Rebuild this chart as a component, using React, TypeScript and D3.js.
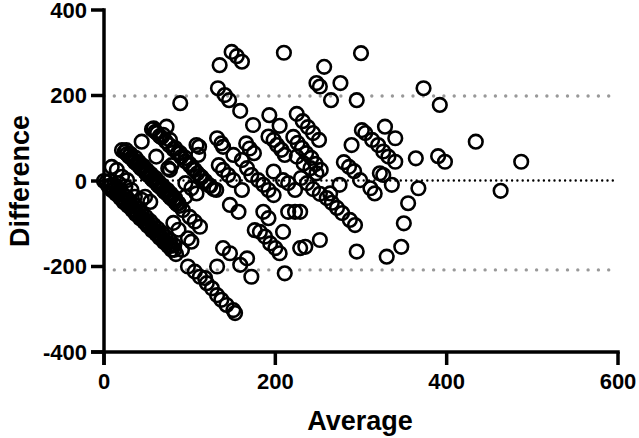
import React from 'react';
import * as d3 from 'd3';

// Bland-Altman style plot: average of two measurements vs their difference
const xTicks = [0, 200, 400, 600];
const yTicks = [-400, -200, 0, 200, 400];

const upperLimit = 199;
const bias = 1;
const lowerLimit = -208;

// [average, difference]
const upperPoints = [
    [135, 271], [149, 302], [155, 292], [161, 279], [210, 300], [89, 182], [133, 217], [141, 201], [146, 189],
    [159, 164], [174, 131], [193, 154], [205, 129], [225, 157], [232, 140], [238, 126], [244, 112], [251, 96],
    [248, 229], [252, 221], [111, 80], [132, 100], [137, 88], [139, 80], [151, 61], [166, 88], [170, 76], [175, 65],
    [192, 104], [198, 96], [202, 84], [207, 73], [211, 61], [221, 103], [226, 89], [231, 77], [236, 65], [242, 54],
    [247, 40], [253, 26], [300, 299], [257, 267], [276, 229], [265, 189], [295, 189], [373, 217], [392, 178],
    [301, 119], [305, 112], [313, 96], [320, 84], [326, 69], [332, 57], [340, 45], [328, 127], [340, 100], [289, 84],
    [280, 44], [286, 33], [292, 23], [364, 53], [390, 58], [398, 45], [434, 92], [487, 45],
];

const middlePoints = [
    [463, -23], [275, -9], [299, 2], [322, 18], [326, 14], [336, -9], [311, -17], [316, -29], [367, -17],
    [230, 7], [237, -5], [244, -19], [252, -30], [260, -40], [266, -51], [272, -63], [278, -75], [287, -91], [293, -103],
    [264, -29], [355, -52], [350, -99], [347, -154], [330, -177], [295, -165], [252, -138], [235, -154], [229, -72],
    [83, 77], [89, 65], [95, 54], [100, 40], [106, 26], [112, 12], [118, 0], [124, -12], [131, -21],
    [110, 61], [134, 37], [139, 26], [145, 14], [151, 2], [161, 49], [167, 30], [172, 14], [161, -21],
    [147, -56], [157, -72], [180, 2], [186, -9], [192, -21], [198, -33], [198, 22], [209, 2], [215, -5],
    [225, 57], [233, 41], [241, 30], [248, 18], [223, -21], [186, -72], [192, -87], [215, -72], [223, -72],
    [58, 123], [73, 127], [69, 108], [77, 96], [44, 92], [61, 57], [75, 30], [79, 37], [108, 84], [77, 26],
    [60, 115], [65, 105], [95, -5], [102, -17], [108, -29], [95, -37], [87, -52],
];

const lowerPoints = [
    [100, -84], [106, -95], [112, -107], [98, -134], [176, -115], [182, -119], [188, -130], [194, -146],
    [200, -157], [205, -169], [209, -119], [229, -157], [139, -157], [147, -169], [167, -181], [159, -196],
    [132, -200], [98, -200], [106, -212], [112, -224], [118, -227], [172, -224], [211, -216],
    [120, -239], [126, -251], [132, -267], [137, -278], [143, -290], [151, -302], [153, -309], [91, -161],
    [81, -98], [87, -114], [102, -142],
];

// dense diagonal ribbons near the origin
const ribbonPoints = [
    [21, 72], [27, 63], [32, 54], [36, 44], [41, 35], [46, 26], [50, 16], [55, 7], [60, -2], [64, -12], [69, -21],
    [74, -30], [78, -40], [83, -49], [88, -58], [92, -68],
    [26, 72], [31, 63], [37, 54], [41, 44], [46, 35], [50, 26], [55, 16], [60, 7], [64, -2], [69, -12], [74, -21],
    [78, -30], [83, -40],
    [24, 68], [29, 58], [34, 49], [39, 40], [43, 30], [48, 21], [53, 12], [57, 2], [62, -7], [67, -16], [71, -26],
    [76, -35], [81, -44], [85, -54],
    [56, 121], [62, 112], [67, 102], [72, 93], [76, 84], [81, 74], [86, 65], [90, 56], [95, 46], [100, 37],
    [104, 28], [109, 18], [114, 9], [118, -1], [123, -10], [128, -19],
    [9, 33], [15, 26], [21, 10], [17, -5], [25, -13], [32, -21], [36, -37], [44, -44], [27, 2], [48, -37], [54, -49],
    [0, 0], [5, -12], [9, -21], [14, -30], [19, -40], [23, -49], [28, -58], [33, -68], [37, -77], [42, -87], [47, -96],
    [51, -105], [56, -115], [61, -124], [65, -133], [70, -143], [75, -152], [79, -161], [84, -171],
    [3, -2], [8, -12], [12, -21], [17, -30], [22, -40], [26, -49], [31, -58], [36, -68], [40, -77], [45, -87],
    [50, -96], [54, -105], [59, -115], [64, -124], [68, -133], [73, -143], [78, -152], [82, -161],
    [7, 0], [12, -9], [16, -19], [21, -28], [26, -37], [30, -47], [35, -56], [40, -65], [44, -75], [49, -84], [54, -94],
    [58, -103], [63, -112], [68, -122], [72, -131], [77, -140], [82, -150],
];

const allPoints = [...ribbonPoints, ...lowerPoints, ...middlePoints, ...upperPoints];

const font = '"Liberation Sans", Arial, Helvetica, sans-serif';

const App = () => {
    const width = 639;
    const height = 438;

    const x = d3.scaleLinear().domain([0, 600]).range([104, 618]);
    const y = d3.scaleLinear().domain([-400, 400]).range([352, 10]);

    const tickLen = 13;
    const axisW = 3.5;

    return (
        <div style={{position: 'fixed', left: 0, top: 0}}>
            <svg width={width} height={height} style={{display: 'block', background: '#fff'}}>
                {/* limits of agreement */}
                {[upperLimit, lowerLimit].map(v => (
                    <line key={v} x1={x(0)} x2={x(600)} y1={y(v)} y2={y(v)}
                          stroke="#999" strokeWidth={3.4} strokeLinecap="round" strokeDasharray="0 10.3"/>
                ))}
                <line x1={x(0)} x2={x(600)} y1={y(bias)} y2={y(bias)}
                      stroke="#000" strokeWidth={2.4} strokeLinecap="round" strokeDasharray="0 5.3"/>

                {/* points */}
                <g fill="none" stroke="#000" strokeWidth={2.6}>
                    {allPoints.map((d, i) => (
                        <circle key={i} cx={x(d[0])} cy={y(d[1])} r={6.8}/>
                    ))}
                </g>

                {/* axes */}
                <g stroke="#000" strokeWidth={axisW}>
                    <line x1={x(0)} x2={x(0)} y1={y(400) - axisW / 2} y2={y(-400) + tickLen}/>
                    <line x1={x(0) - tickLen} x2={x(600) + axisW / 2} y1={y(-400)} y2={y(-400)}/>
                    {yTicks.map(t => (
                        <line key={t} x1={x(0) - tickLen} x2={x(0)} y1={y(t)} y2={y(t)}/>
                    ))}
                    {xTicks.map(t => (
                        <line key={t} x1={x(t)} x2={x(t)} y1={y(-400)} y2={y(-400) + tickLen}/>
                    ))}
                </g>

                <g fontFamily={font} fontWeight="bold" fontSize={22} fill="#000">
                    {yTicks.map(t => (
                        <text key={t} x={x(0) - 17} y={y(t)} dy="0.36em" textAnchor="end">{t}</text>
                    ))}
                    {xTicks.map(t => (
                        <text key={t} x={x(t)} y={y(-400) + 37} textAnchor="middle">{t}</text>
                    ))}
                </g>

                <text x={x(300) - 1} y={430} textAnchor="middle" fontFamily={font} fontWeight="bold"
                      fontSize={27}>Average</text>
                <text transform={`translate(29,${y(0)}) rotate(-90)`} textAnchor="middle" fontFamily={font}
                      fontWeight="bold" fontSize={27}>Difference</text>
            </svg>
        </div>
    );
};

export default App;
